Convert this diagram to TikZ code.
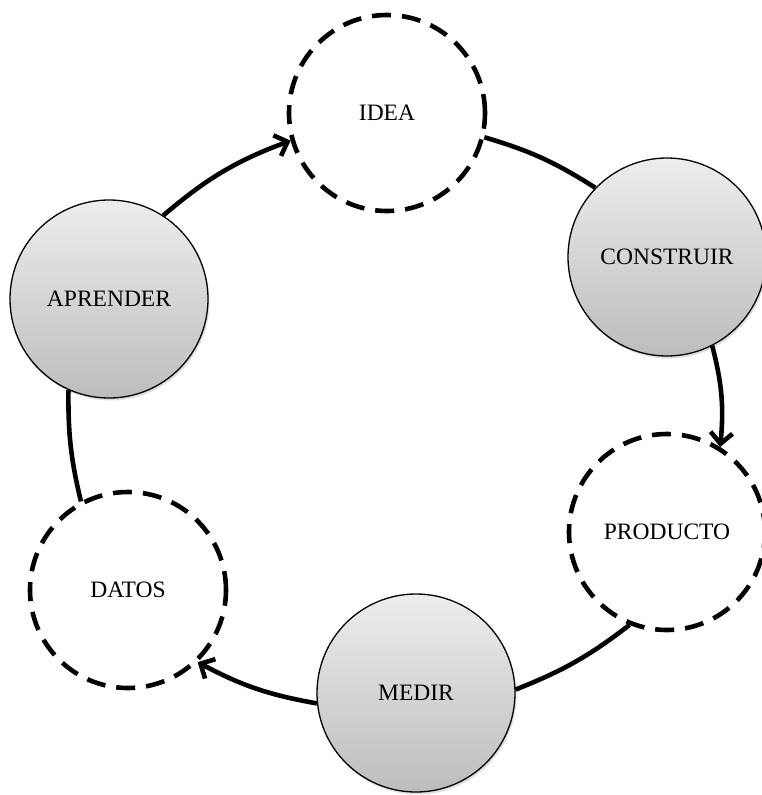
\documentclass[tikz,border=0pt]{standalone}
\usepackage{fontspec}
\setmainfont{Liberation Serif}
\usetikzlibrary{arrows.meta,shadows}
\tikzset{
  solidbox/.style={circle, draw=black, line width=1.3pt, minimum size=198pt, inner sep=0pt,
    top color=gray!14, bottom color=gray!52,
    drop shadow={opacity=0.25, shadow xshift=1.5pt, shadow yshift=-2.5pt},
    font=\fontsize{23.5}{28}\selectfont},
  dashbox/.style={circle, draw=black, line width=4.6pt, dash pattern=on 19pt off 11pt,
    minimum size=196pt, inner sep=0pt, fill=white,
    font=\fontsize{23.5}{28}\selectfont},
  link/.style={line width=4.6pt, draw=black},
  arrowlink/.style={link, -{Straight Barb[length=11pt,width=22pt]}}
}
\begin{document}
\begin{tikzpicture}[x=1pt,y=-1pt]
\useasboundingbox (0,0) rectangle (761,795);
\node[dashbox]  (idea)      at (387,113) {IDEA};
\node[solidbox] (construir) at (667,257) {CONSTRUIR};
\node[dashbox]  (producto)  at (667,532) {PRODUCTO};
\node[solidbox] (medir)     at (416,693) {MEDIR};
\node[dashbox]  (datos)     at (128,590) {DATOS};
\node[solidbox] (aprender)  at (109,299) {APRENDER};

\draw[arrowlink] (aprender.57) to[bend left=10] (idea.196);
\draw[link] (idea.-14) to[bend left=8] (construir.136);
\draw[arrowlink] (construir.-63) to[bend left=10] (producto.58);
\draw[link] (producto.-112) to[bend left=8] (medir.2);
\draw[arrowlink] (medir.186) to[bend left=9] (datos.-46);
\draw[link] (datos.118) to[bend left=7] (aprender.246);
\end{tikzpicture}
\end{document}
